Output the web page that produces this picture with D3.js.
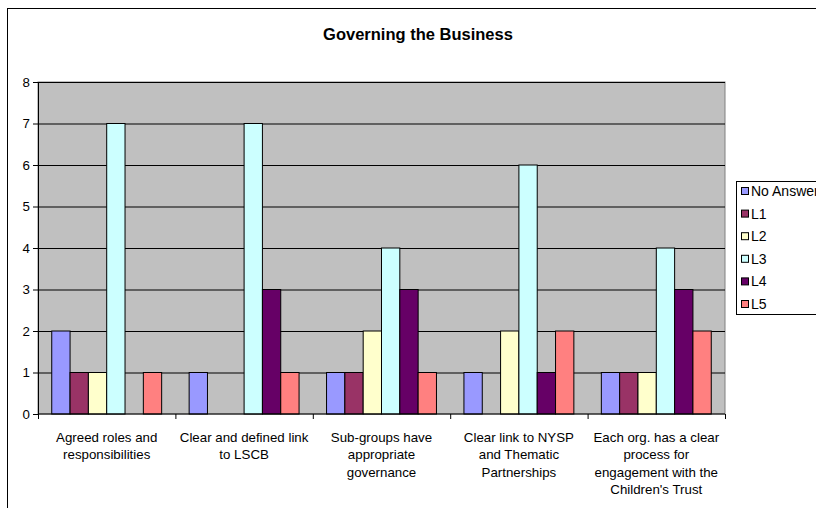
<!DOCTYPE html>
<html>
<head>
<meta charset="utf-8">
<script src="https://cdn.jsdelivr.net/npm/d3@7"></script>
<style>
  body { margin: 0; background: #fff; }
  svg { display: block; font-family: Arial, "Liberation Sans", sans-serif; }
</style>
</head>
<body>
<div id="chart"></div>
<script>
// categories, as wrapped in the picture
const categories = [
  'Agreed roles and\nresponsibilities',
  'Clear and defined link\nto LSCB',
  'Sub-groups have\nappropriate\ngovernance',
  'Clear link to NYSP\nand Thematic\nPartnerships',
  'Each org. has a clear\nprocess for\nengagement with the\nChildren\'s Trust'
];
const seriesNames = ['No Answer', 'L1', 'L2', 'L3', 'L4', 'L5'];
const noAnswer = [2, 1, 1, 1, 1];
const l1 = [1, 0, 1, 0, 1];
const l2 = [1, 0, 2, 2, 1];
const l3 = [7, 7, 4, 6, 4];
const l4 = [0, 3, 3, 1, 3];
const l5 = [1, 1, 1, 2, 2];
const yTicks = [0, 1, 2, 3, 4, 5, 6, 7, 8];
const colors = ['#9999FF', '#993366', '#FFFFCC', '#CCFFFF', '#660066', '#FF8080'];

const series = [noAnswer, l1, l2, l3, l4, l5];

const width = 816, height = 508;
const svg = d3.select('#chart').append('svg')
  .attr('width', width)
  .attr('height', height);

// chart frame (runs off the right and bottom edges)
svg.append('rect')
  .attr('x', 7.5).attr('y', 8.5)
  .attr('width', 900).attr('height', 600)
  .attr('fill', '#fff').attr('stroke', '#000');

svg.append('text')
  .attr('x', 418).attr('y', 40)
  .attr('text-anchor', 'middle')
  .style('font-size', '16.5px')
  .style('font-weight', 'bold')
  .text('Governing the Business');

const plot = { left: 38, top: 82, right: 725, bottom: 414 };

const x0 = d3.scaleBand()
  .domain(d3.range(categories.length))
  .range([plot.left, plot.right]);
const x1 = d3.scaleBand()
  .domain(d3.range(seriesNames.length))
  .range([0, x0.bandwidth()])
  .paddingOuter(0.75);
const y = d3.scaleLinear()
  .domain([0, 8])
  .range([plot.bottom, plot.top]);

// plot area
svg.append('rect')
  .attr('x', plot.left).attr('y', plot.top)
  .attr('width', plot.right - plot.left).attr('height', plot.bottom - plot.top)
  .attr('fill', '#C0C0C0').attr('stroke', '#808080');

// gridlines
const grid = d3.axisLeft(y)
  .tickValues(yTicks.slice(1))
  .tickSize(-(plot.right - plot.left))
  .tickFormat('');
svg.append('g')
  .attr('transform', `translate(${plot.left},0)`)
  .call(grid)
  .call(g => g.select('.domain').remove())
  .call(g => g.selectAll('line').attr('stroke', '#000'));

// bars
const groups = svg.append('g').selectAll('g')
  .data(categories)
  .join('g')
  .attr('transform', (d, i) => `translate(${x0(i)},0)`);

groups.selectAll('rect')
  .data((d, i) => series.map((s, j) => ({ j, v: s[i] })).filter(e => e.v > 0))
  .join('rect')
  .attr('x', d => x1(d.j))
  .attr('y', d => y(d.v))
  .attr('width', x1.bandwidth())
  .attr('height', d => y(0) - y(d.v))
  .attr('fill', d => colors[d.j])
  .attr('stroke', '#000')
  .attr('stroke-width', 1);

// y axis
const yAxis = d3.axisLeft(y)
  .tickValues(yTicks)
  .tickSize(5)
  .tickPadding(3);
svg.append('g')
  .attr('transform', `translate(${plot.left},0)`)
  .call(yAxis)
  .call(g => g.selectAll('path, line').attr('stroke', '#000'))
  .call(g => g.selectAll('text')
    .attr('fill', '#000')
    .style('font-size', '13.3px')
    .style('font-family', 'Arial, "Liberation Sans", sans-serif'));

// x axis: ticks at category boundaries
const xAxis = d3.axisBottom(d3.scaleLinear().domain([0, categories.length]).range([plot.left, plot.right]))
  .ticks(categories.length)
  .tickSize(5)
  .tickFormat('');
svg.append('g')
  .attr('transform', `translate(0,${plot.bottom})`)
  .call(xAxis)
  .call(g => g.selectAll('path, line').attr('stroke', '#000'))
  .call(g => g.select('.domain').attr('d', `M${plot.left},0H${plot.right}`));

// category labels
const labels = svg.append('g').selectAll('text')
  .data(categories)
  .join('text')
  .attr('x', (d, i) => x0(i) + x0.bandwidth() / 2)
  .attr('y', 442)
  .attr('text-anchor', 'middle')
  .style('font-size', '13.3px');
labels.selectAll('tspan')
  .data(d => d.split('\n'))
  .join('tspan')
  .attr('x', function () { return this.parentNode.getAttribute('x'); })
  .attr('dy', (d, i) => i === 0 ? 0 : 17.3)
  .text(d => d);

// legend
const legend = svg.append('g').attr('transform', 'translate(736,181)');
legend.append('rect')
  .attr('x', 0.5).attr('y', 0.5)
  .attr('width', 120).attr('height', 133)
  .attr('fill', '#fff').attr('stroke', '#000');
const items = legend.selectAll('g.item')
  .data(seriesNames)
  .join('g')
  .attr('class', 'item')
  .attr('transform', (d, i) => `translate(0,${10 + i * 22.6})`);
items.append('rect')
  .attr('x', 5.5).attr('y', -3.5)
  .attr('width', 7).attr('height', 7)
  .attr('fill', (d, i) => colors[i])
  .attr('stroke', '#000');
items.append('text')
  .attr('x', 15).attr('y', 5)
  .style('font-size', '14px')
  .text(d => d);
</script>
</body>
</html>
